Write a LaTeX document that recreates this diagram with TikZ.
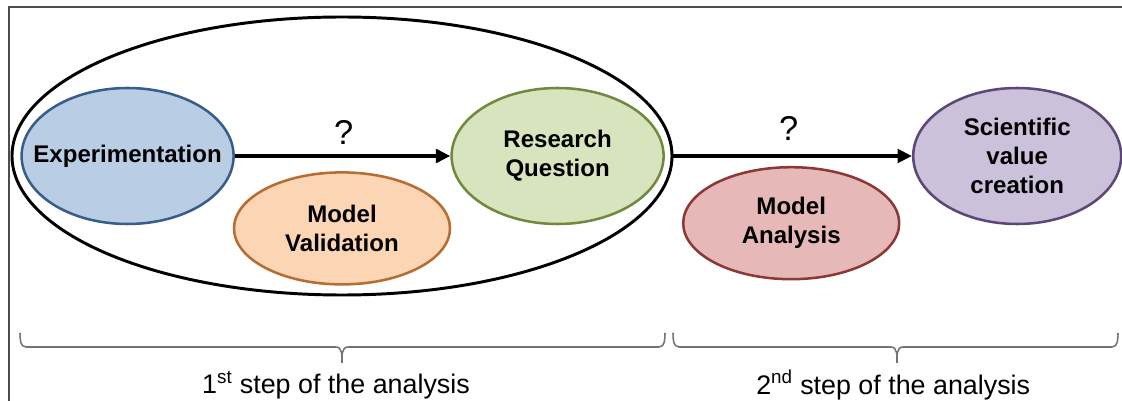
\documentclass[tikz,border=0pt]{standalone}
\usepackage{fontspec}
\setmainfont{Liberation Sans}
\usepackage{xcolor}
\usetikzlibrary{arrows.meta,shapes.geometric}

\definecolor{expFill}{HTML}{B9CDE5}
\definecolor{expLine}{HTML}{385D8A}
\definecolor{valFill}{HTML}{FCD5B5}
\definecolor{valLine}{HTML}{B66D31}
\definecolor{rqFill}{HTML}{D7E4BD}
\definecolor{rqLine}{HTML}{71893F}
\definecolor{anaFill}{HTML}{E6B9B8}
\definecolor{anaLine}{HTML}{8C3836}
\definecolor{sciFill}{HTML}{CCC1DA}
\definecolor{sciLine}{HTML}{5C4776}

\begin{document}
\begin{tikzpicture}[
    font=\bfseries\fontsize{17.1}{20.6}\selectfont,
    oval/.style={
        ellipse,
        line width=1.8pt,
        inner sep=0pt,
        align=center,
        minimum width=5.3cm,
        minimum height=3.4cm
    },
    flat/.style={
        oval,
        minimum width=5.4cm,
        minimum height=2.8cm
    },
    arr/.style={-{Triangle[length=0.36cm,width=0.34cm]}, line width=3.2pt},
    brc/.style={draw=black!55, line width=1.1pt},
    qmark/.style={font=\fontsize{24.5}{26}\selectfont},
    steptext/.style={font=\fontsize{19.1}{22}\selectfont}
]
\useasboundingbox (0,0) rectangle (28.05,-10.025);

% frame
\draw[black!70, line width=1pt] (0.225,-10.025) |- (28.05,-0.175);

% first step
\node[ellipse, draw, line width=2.1pt, minimum width=16.5cm, minimum height=6.95cm] (first) at (8.55,-3.9) {};
\node[oval, draw=expLine, fill=expFill] (expe) at (3.19,-3.9) {\makebox[0pt][c]{Experimentation}};
\node[flat, draw=valLine, fill=valFill] (valid) at (8.55,-5.71) {Model\\Validation};
\node[oval, draw=rqLine, fill=rqFill] (rq) at (13.94,-3.9) {Research\\Question};

% second step
\node[flat, draw=anaLine, fill=anaFill] (ana) at (19.78,-5.58) {Model\\Analysis};
\node[oval, draw=sciLine, fill=sciFill, minimum width=5.2cm] (sci) at (25.43,-3.9) {Scientific\\value\\creation};

\draw[arr] (expe) -- (rq);
\draw[arr] (first.east) -- (sci.west);

\node[qmark] (q1) at (8.59,-3.32) {?};
\node[qmark] (q2) at (19.72,-3.2) {?};

% braces
\draw[brc] (0.5,-8.325) to[out=-90,in=180] (0.65,-8.675) -- (8.40,-8.675)
    to[out=0,in=90] (8.55,-9.075) to[out=90,in=180] (8.70,-8.675)
    -- (16.475,-8.675) to[out=0,in=-90] (16.625,-8.325);
\draw[brc] (16.825,-8.325) to[out=-90,in=180] (16.975,-8.675) -- (22.275,-8.675)
    to[out=0,in=90] (22.425,-9.075) to[out=90,in=180] (22.575,-8.675)
    -- (27.8,-8.675) to[out=0,in=-90] (27.95,-8.325);

\node[steptext] (s1) at (8.4,-9.63) {1\textsuperscript{st} step of the analysis};
\node[steptext] (s2) at (22.33,-9.63) {2\textsuperscript{nd} step of the analysis};

\end{tikzpicture}
\end{document}
